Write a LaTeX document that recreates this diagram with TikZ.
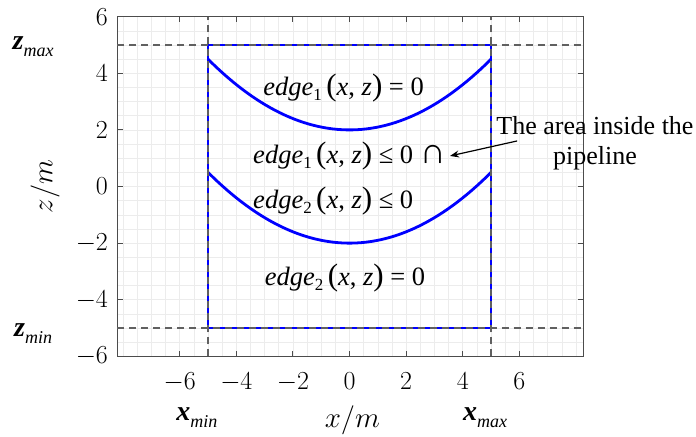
\documentclass[tikz,border=0pt]{standalone}
\usepackage{fix-cm}
\usepackage[no-math]{fontspec}
\setmainfont{Liberation Serif}
\usetikzlibrary{arrows.meta}
\newcommand\limsym[2]{{\fontsize{28}{30}\selectfont\bfseries\itshape #1}\raisebox{-7pt}{\fontsize{18}{20}\selectfont\itshape #2}}
\newcommand\edgefn[1]{\textit{edge}\raisebox{-5pt}{\fontsize{17}{18}\selectfont #1}\,{\fontsize{31}{30}\selectfont(}\textit{x}, \textit{z}{\fontsize{31}{30}\selectfont)}}

\begin{document}
\begin{tikzpicture}[x=28.3pt,y=28.3pt,
  bound/.style={blue,line width=2.8pt},
  limit/.style={gray!75!black,line width=1.2pt,dash pattern=on 7pt off 5pt},
  frame/.style={gray!60!black,line width=0.9pt},
  ticklab/.style={font=\fontsize{26}{30}\selectfont,inner sep=0pt},
  axlab/.style={font=\fontsize{29}{32}\selectfont,inner sep=0pt},
  eqlab/.style={font=\fontsize{26.5}{30}\selectfont,inner sep=0pt},
  limlab/.style={inner sep=0pt}]
  \useasboundingbox(-12.35,-8.82)rectangle(12.24,6.59);
  \draw[gray!15,line width=0.6pt,step=0.5](-8.2,-6)grid(8.25,6);
  \draw[frame](-8.2,-6)rectangle(8.25,6);
  \foreach \x in {-6,-4,...,6}{
    \draw[frame](\x,-6)--(\x,-5.82) (\x,6)--(\x,5.82);
    \node[ticklab,anchor=north] (xt\x) at(\x,-6.57){$\x$};
  }
  \foreach \z in {-6,-4,...,6}{
    \draw[frame](-8.2,\z)--(-8.02,\z) (8.25,\z)--(8.07,\z);
    \node[ticklab,anchor=east] (zt\z) at(-8.53,\z){$\z$};
  }
  \node[axlab] (xlab) at(0.1,-8.25){$x/m$};
  \node[axlab,rotate=90] (zlab) at(-10.76,0){$z/m$};
  % pipeline region
  \draw[bound](-5,-5)rectangle(5,5);
  \draw[bound,domain=-5:5,samples=60]plot(\x,{2+0.1*\x*\x});
  \draw[bound,domain=-5:5,samples=60]plot(\x,{-2+0.1*\x*\x});
  \draw[limit](-5,-6)--(-5,6) (5,-6)--(5,6) (-8.2,-5)--(8.25,-5) (-8.2,5)--(8.25,5);
  \node[limlab] (zmax) at(-11.18,4.93){\limsym{z}{max}};
  \node[limlab] (zmin) at(-11.18,-5.18){\limsym{z}{min}};
  \node[limlab] (xmin) at(-5.39,-8.18){\limsym{x}{min}};
  \node[limlab] (xmax) at(4.79,-8.18){\limsym{x}{max}};
  \node[eqlab,anchor=base] (eq1) at(-0.21,3.2){\edgefn{1} = 0};
  \node[eqlab,anchor=base west] (eq2) at(-3.41,0.83){\edgefn{1} ≤ 0 {\fontsize{36}{30}\selectfont ∩}};
  \node[eqlab,anchor=base west] (eq3) at(-3.41,-0.76){\edgefn{2} ≤ 0};
  \node[eqlab,anchor=base] (eq4) at(-0.16,-3.48){\edgefn{2} = 0};
  \node[font=\fontsize{26}{30}\selectfont,align=center,inner sep=0pt] (note) at(8.67,1.53){The area inside the\\pipeline};
  \coordinate (tail) at(5.92,1.61);
  \coordinate (tip) at(3.55,1.08);
  \draw[-{Stealth[length=9pt,width=7pt]},line width=1.2pt](tail)--(tip);
\end{tikzpicture}
\end{document}
